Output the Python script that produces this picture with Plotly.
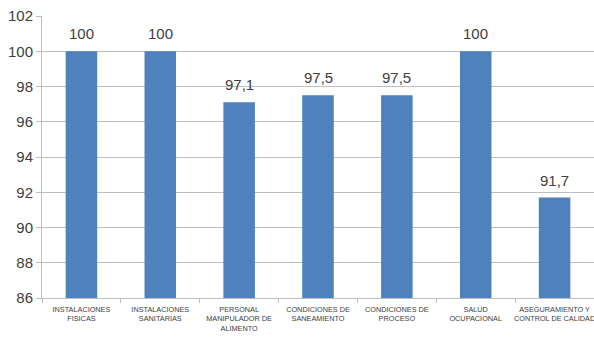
import plotly.graph_objects as go

# Compliance percentage per inspection area
categories = [
    "INSTALACIONES<br>FISICAS",
    "INSTALACIONES<br>SANITARIAS",
    "PERSONAL<br>MANIPULADOR DE<br>ALIMENTO",
    "CONDICIONES DE<br>SANEAMIENTO",
    "CONDICIONES DE<br>PROCESO",
    "SALUD<br>OCUPACIONAL",
    "ASEGURAMIENTO Y<br>CONTROL DE CALIDAD",
]
values = [100, 100, 97.1, 97.5, 97.5, 100, 91.7]
y_ticks = [86, 88, 90, 92, 94, 96, 98, 100, 102]

BAR = "#4F81BD"
GRID = "#BFBFBF"
TEXT = "#404040"
FONT = "Liberation Sans Narrow, Arial Narrow, Liberation Sans, sans-serif"


def fmt(v):
    s = f"{v:g}"
    return s.replace(".", ",")


fig = go.Figure(
    go.Bar(
        x=categories,
        y=values,
        marker=dict(color=BAR, line=dict(width=0)),
        width=0.4,
    )
)

# value labels above each bar
for c, v in zip(categories, values):
    fig.add_annotation(
        x=c, y=v, text=fmt(v), showarrow=False,
        yanchor="bottom", yshift=7,
        font=dict(family=FONT, size=15, color=TEXT),
    )

fig.update_layout(
    width=594, height=341,
    margin=dict(l=42, r=0, t=16, b=43),
    paper_bgcolor="white", plot_bgcolor="white",
    showlegend=False,
    xaxis=dict(
        type="category",
        automargin=False,
        tickangle=0,
        showline=True, linecolor=GRID, linewidth=1,
        ticks="outside", tickson="boundaries", ticklen=4, tickcolor=GRID,
        ticklabelstandoff=4,
        tickfont=dict(family=FONT, size=7.3, color=TEXT),
        showgrid=False,
    ),
    yaxis=dict(
        range=[86, 102],
        automargin=False,
        tickvals=y_ticks,
        ticktext=[str(t) for t in y_ticks],
        showline=True, linecolor=GRID, linewidth=1,
        ticks="outside", ticklen=5, tickcolor=GRID,
        gridcolor=GRID, gridwidth=1,
        zeroline=False,
        tickfont=dict(family=FONT, size=15, color=TEXT),
    ),
)

fig.write_html("out.html")
